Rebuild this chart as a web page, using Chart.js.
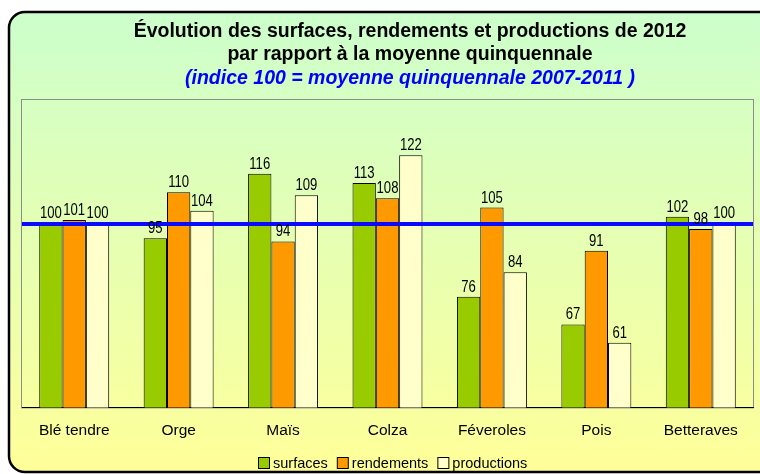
<!DOCTYPE html>
<html>
<head>
<meta charset="utf-8">
<script src="https://cdn.jsdelivr.net/npm/chart.js@4"></script>
<style>
  html, body { margin: 0; padding: 0; background: #ffffff; }
  #wrap { width: 760px; height: 474px; }
</style>
</head>
<body>
<div id="wrap"><canvas id="chart" width="760" height="474"></canvas></div>
<script>
// Chart data
const categories = ['Blé tendre', 'Orge', 'Maïs', 'Colza', 'Féveroles', 'Pois', 'Betteraves'];
const surfaces = [100, 95, 116, 113, 76, 67, 102];
const rendements = [101, 110, 94, 108, 105, 91, 98];
const productions = [100, 104, 109, 122, 84, 61, 100];
const seriesNames = ['surfaces', 'rendements', 'productions'];
const seriesColors = ['#99cc00', '#ff9900', '#ffffcc'];
const referenceValue = 100;

const titleLines = [
    'Évolution des surfaces, rendements et productions de 2012',
    'par rapport à la moyenne quinquennale'
];
const subtitle = '(indice 100 = moyenne quinquennale 2007-2011 )';

const FONT = '"Liberation Sans", Arial, sans-serif';

// Background frame, title, plot border, reference line, labels and legend
const framePlugin = {
    id: 'frame',
    beforeDraw(chart) {
        const ctx = chart.ctx;
        const area = chart.chartArea;
        ctx.save();
        // rounded outer box
        const x = 9, y = 12, w = 770, h = 460, r = 16;
        const grad = ctx.createLinearGradient(0, y, 0, y + h);
        grad.addColorStop(0, '#ccffcc');
        grad.addColorStop(1, '#ffff99');
        ctx.beginPath();
        ctx.roundRect(x, y, w, h, r);
        ctx.fillStyle = grad;
        ctx.fill();
        ctx.lineWidth = 2.5;
        ctx.strokeStyle = '#000000';
        ctx.stroke();

        // title
        ctx.fillStyle = '#000000';
        ctx.textAlign = 'center';
        ctx.textBaseline = 'alphabetic';
        ctx.font = 'bold 19.5px ' + FONT;
        ctx.fillText(titleLines[0], 410, 37);
        ctx.fillText(titleLines[1], 410, 60);
        ctx.fillStyle = '#0000ff';
        ctx.font = 'italic bold 19.5px ' + FONT;
        ctx.fillText(subtitle, 410, 84);

        // plot border
        ctx.strokeStyle = '#8c8c8c';
        ctx.lineWidth = 1;
        ctx.strokeRect(area.left - 0.5, area.top - 0.5, area.right - area.left + 1, area.bottom - area.top + 1);

        // legend
        ctx.font = '14.5px ' + FONT;
        ctx.textAlign = 'left';
        const box = 11, gapText = 4, gapItem = 9;
        const widths = seriesNames.map(n => ctx.measureText(n).width);
        const total = widths.reduce((a, b) => a + b, 0) + seriesNames.length * (box + gapText) + gapItem * (seriesNames.length - 1);
        let lx = Math.round(393 - total / 2);
        seriesNames.forEach((name, i) => {
            ctx.fillStyle = seriesColors[i];
            ctx.fillRect(lx + 0.5, 457.5, box, box);
            ctx.strokeStyle = '#000000';
            ctx.strokeRect(lx + 0.5, 457.5, box, box);
            ctx.fillStyle = '#000000';
            ctx.fillText(name, lx + box + gapText, 468);
            lx += box + gapText + widths[i] + gapItem;
        });
        ctx.restore();
    },
    afterDatasetsDraw(chart) {
        const ctx = chart.ctx;
        const area = chart.chartArea;
        const yScale = chart.scales.y;
        ctx.save();
        // reference line at 100
        const yRef = Math.round(yScale.getPixelForValue(referenceValue)) + 1;
        ctx.strokeStyle = '#0a0aff';
        ctx.lineWidth = 4;
        ctx.beginPath();
        ctx.moveTo(area.left, yRef);
        ctx.lineTo(area.right, yRef);
        ctx.stroke();

        // value labels (condensed, like Arial Narrow)
        ctx.fillStyle = '#000000';
        ctx.font = '16px ' + FONT;
        ctx.textAlign = 'center';
        ctx.textBaseline = 'alphabetic';
        chart.data.datasets.forEach((ds, di) => {
            const meta = chart.getDatasetMeta(di);
            meta.data.forEach((bar, i) => {
                ctx.save();
                ctx.translate(bar.x, bar.y - 5);
                ctx.scale(0.82, 1);
                ctx.fillText(ds.data[i], 0, 0);
                ctx.restore();
            });
        });
        ctx.restore();
    }
};

const ctx = document.getElementById('chart').getContext('2d');
new Chart(ctx, {
    type: 'bar',
    data: {
        labels: categories,
        datasets: seriesNames.map((name, i) => ({
            label: name,
            data: [surfaces, rendements, productions][i],
            backgroundColor: seriesColors[i]
        }))
    },
    options: {
        responsive: false,
        animation: false,
        layout: {
            padding: { top: 100, left: 22, right: 7, bottom: 20 }
        },
        datasets: {
            bar: {
                categoryPercentage: 0.67,
                barPercentage: 1.0,
                borderColor: '#000000',
                borderWidth: 1
            }
        },
        scales: {
            x: {
                grid: { display: false, drawTicks: false },
                border: { display: true, color: '#000000', width: 1 },
                ticks: {
                    color: '#000000',
                    padding: 14,
                    font: { family: FONT, size: 15.5 }
                }
            },
            y: {
                display: false,
                min: 40,
                max: 140
            }
        },
        plugins: {
            legend: { display: false },
            tooltip: { enabled: false },
            title: { display: false }
        }
    },
    plugins: [framePlugin]
});
</script>
</body>
</html>
